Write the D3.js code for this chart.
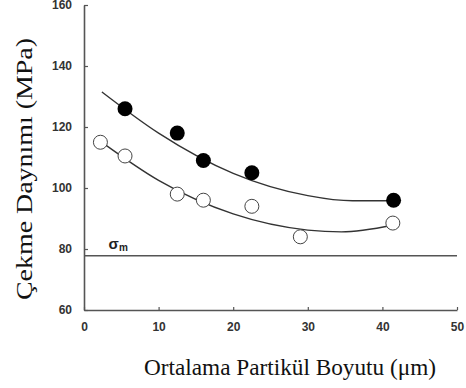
<!DOCTYPE html>
<html>
<head>
  <script src="https://d3js.org/d3.v7.min.js"></script>
  <style>
    html, body { margin: 0; padding: 0; background: white; }
    .tick text { font-family: "Liberation Sans", Arial, sans-serif; font-weight: bold; font-size: 12px; fill: #333; }
    .axisTitle { font-family: "Liberation Serif", "Times New Roman", serif; font-size: 23px; fill: #111; }
  </style>
</head>
<body>
<script>
  // particle size (um) and tensile strength (MPa)
  const filledSize = [5.5, 12.5, 16, 22.5, 41.5];
  const filledStrength = [126, 118, 109, 105, 96];
  const openSize = [2.2, 5.5, 12.5, 16, 22.5, 29, 41.4];
  const openStrength = [115, 110.5, 98, 96, 94, 84, 88.5];

  // trend curves
  const filledFitX = [2.4, 10, 20, 30, 36, 41.5];
  const filledFitY = [131.5, 118, 104.8, 97.5, 95.8, 95.8];
  const openFitX = [2.5, 10, 20, 30, 34.5, 41.4];
  const openFitY = [114.8, 102.5, 91.5, 86.2, 85.6, 87.8];

  const sigmaM = 77.8;
  const xTicks = [0, 10, 20, 30, 40, 50];
  const yTicks = [60, 80, 100, 120, 140, 160];

  const width = 466, height = 388;
  const margin = {top: 5, left: 84, right: 9, bottom: 78};

  const svg = d3.select("body").append("svg")
    .attr("width", width)
    .attr("height", height);

  const xScale = d3.scaleLinear().domain([0, 50]).range([margin.left, width - margin.right]);
  const yScale = d3.scaleLinear().domain([60, 160]).range([height - margin.bottom, margin.top]);

  // axes with inner ticks
  const xAxis = svg.append("g")
    .attr("transform", `translate(0,${height - margin.bottom})`)
    .call(d3.axisBottom(xScale).tickValues(xTicks).tickSizeInner(-3).tickSizeOuter(0).tickPadding(12));
  const yAxis = svg.append("g")
    .attr("transform", `translate(${margin.left},0)`)
    .call(d3.axisLeft(yScale).tickValues(yTicks).tickSizeInner(-4).tickSizeOuter(0).tickPadding(12));
  [xAxis, yAxis].forEach(a => {
    a.select(".domain").attr("stroke", "#555").attr("stroke-width", 1.6);
    a.selectAll(".tick line").attr("stroke", "#555").attr("stroke-width", 1.2);
  });

  // sigma_m line
  svg.append("line")
    .attr("x1", xScale(0)).attr("x2", xScale(50))
    .attr("y1", yScale(sigmaM)).attr("y2", yScale(sigmaM))
    .attr("stroke", "#555").attr("stroke-width", 1.4);
  const sig = svg.append("text")
    .attr("x", xScale(3.3)).attr("y", yScale(sigmaM) - 7)
    .attr("font-family", "Liberation Sans, Arial, sans-serif")
    .attr("font-weight", "bold").attr("font-size", 15).attr("fill", "#222");
  sig.append("tspan").text("σ");
  sig.append("tspan").attr("font-size", 10).attr("dy", 2).text("m");

  // trend lines
  const line = d3.line()
    .x(d => xScale(d[0])).y(d => yScale(d[1]))
    .curve(d3.curveMonotoneX);
  svg.append("path")
    .datum(filledFitX.map((x, i) => [x, filledFitY[i]]))
    .attr("d", line).attr("fill", "none").attr("stroke", "#333").attr("stroke-width", 1.4);
  svg.append("path")
    .datum(openFitX.map((x, i) => [x, openFitY[i]]))
    .attr("d", line).attr("fill", "none").attr("stroke", "#333").attr("stroke-width", 1.4);

  // points
  svg.selectAll(".open")
    .data(openSize.map((x, i) => [x, openStrength[i]]))
    .enter().append("circle")
    .attr("class", "open")
    .attr("cx", d => xScale(d[0])).attr("cy", d => yScale(d[1]))
    .attr("r", 7).attr("fill", "white").attr("stroke", "#444").attr("stroke-width", 1);
  svg.selectAll(".filled")
    .data(filledSize.map((x, i) => [x, filledStrength[i]]))
    .enter().append("circle")
    .attr("class", "filled")
    .attr("cx", d => xScale(d[0])).attr("cy", d => yScale(d[1]))
    .attr("r", 7.5).attr("fill", "black");

  // axis titles
  svg.append("text")
    .attr("class", "axisTitle")
    .attr("x", 290).attr("y", 375)
    .attr("text-anchor", "middle")
    .attr("textLength", 292).attr("lengthAdjust", "spacingAndGlyphs")
    .text("Ortalama Partikül Boyutu (μm)");
  svg.append("text")
    .attr("class", "axisTitle")
    .attr("transform", "translate(32,169) rotate(-90)")
    .attr("text-anchor", "middle")
    .attr("textLength", 262).attr("lengthAdjust", "spacingAndGlyphs")
    .text("Çekme Daynımı (MPa)");
</script>
</body>
</html>
